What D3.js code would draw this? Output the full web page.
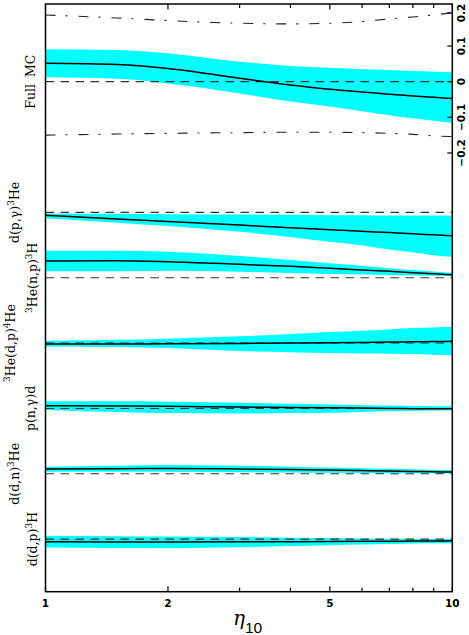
<!DOCTYPE html>
<html><head><meta charset="utf-8">
<script src="https://cdn.jsdelivr.net/npm/d3@7"></script>
<style>body{margin:0;background:#fff}</style>
</head><body><svg id="c" width="469" height="635"></svg>
<script>
// ---- data ----
const eta = [1, 1.5, 2, 3, 4, 5, 6, 7, 8, 9, 10];

// Full Monte Carlo panel
const mcCentral = [0.0515, 0.048, 0.037, 0.0094, -0.0094, -0.0215, -0.029, -0.0355, -0.040, -0.044, -0.047];
const mcUpper   = [0.091, 0.089, 0.080, 0.056, 0.044, 0.039, 0.035, 0.033, 0.030, 0.028, 0.026];
const mcLower   = [0.012, 0.008, -0.005, -0.033, -0.056, -0.070, -0.083, -0.094, -0.103, -0.110, -0.115];
const mcLimitUp = [0.194, 0.185, 0.177, 0.169, 0.167, 0.169, 0.174, 0.182, 0.188, 0.194, 0.201];
const mcLimitLo = [-0.150, -0.147, -0.145, -0.143, -0.142, -0.142, -0.143, -0.145, -0.148, -0.152, -0.154];

// individual reactions (values relative to their own zero line)
const reactions = ["d(p,γ)3He", "3He(n,p)3H", "3He(d,p)4He", "p(n,γ)d", "d(d,n)3He", "d(d,p)3H"];
const reactionOffsets = [-0.3667, -0.55, -0.7333, -0.9167, -1.1, -1.2833];
const reactCentral = [
  [-0.0084, -0.0185, -0.0255, -0.0356, -0.043, -0.0485, -0.053, -0.0567, -0.060, -0.063, -0.0657],
  [0.0468, 0.0477, 0.0449, 0.0376, 0.0320, 0.0264, 0.0220, 0.0179, 0.0140, 0.0109, 0.0084],
  [-0.0028, -0.0025, -0.002, -0.001, 0.0, 0.0008, 0.0018, 0.0028, 0.0035, 0.0042, 0.0048],
  [0.0073, 0.007, 0.006, 0.004, 0.003, 0.002, 0.001, 0.0, -0.0005, -0.001, -0.001],
  [0.0132, 0.0145, 0.0149, 0.0135, 0.012, 0.0104, 0.009, 0.0078, 0.0066, 0.0056, 0.0048],
  [-0.0076, -0.0078, -0.0078, -0.0075, -0.007, -0.0066, -0.0062, -0.0058, -0.0054, -0.0051, -0.0048]
];
const reactUpper = [
  [-0.003, -0.004, -0.005, -0.006, -0.007, -0.008, -0.008, -0.009, -0.009, -0.009, -0.0095],
  [0.0757, 0.0757, 0.0729, 0.0609, 0.0495, 0.0404, 0.0335, 0.0264, 0.0215, 0.0175, 0.014],
  [0.0067, 0.009, 0.0123, 0.0188, 0.0255, 0.0309, 0.0345, 0.0384, 0.042, 0.044, 0.046],
  [0.020, 0.020, 0.019, 0.016, 0.013, 0.011, 0.009, 0.008, 0.007, 0.0065, 0.006],
  [0.0196, 0.0225, 0.0244, 0.0225, 0.020, 0.0177, 0.0158, 0.014, 0.0125, 0.0113, 0.0104],
  [0.0093, 0.0082, 0.0073, 0.0058, 0.0042, 0.003, 0.002, 0.0012, 0.0006, 0.0002, 0.0]
];
const reactLower = [
  [-0.0168, -0.029, -0.0384, -0.0544, -0.069, -0.0825, -0.093, -0.1038, -0.112, -0.120, -0.1248],
  [0.018, 0.0185, 0.0196, 0.0168, 0.013, 0.0104, 0.009, 0.0076, 0.0065, 0.0055, 0.0048],
  [-0.0093, -0.011, -0.014, -0.0224, -0.0255, -0.0281, -0.029, -0.0297, -0.031, -0.0325, -0.0345],
  [-0.004, -0.010, -0.013, -0.014, -0.013, -0.012, -0.010, -0.008, -0.007, -0.006, -0.005],
  [0.0056, 0.0056, 0.0056, 0.0045, 0.0035, 0.0028, 0.0022, 0.0018, 0.0014, 0.0012, 0.001],
  [-0.0236, -0.0248, -0.0253, -0.023, -0.0195, -0.0168, -0.0148, -0.0135, -0.0125, -0.0118, -0.0112]
];

const xMajorTicks = [1, 2, 5, 10];
const xMinorTicks = [3, 4, 6, 7, 8, 9];
const yTicks = [0.2, 0.1, 0, -0.1, -0.2];
const yTickLabels = ["0.2", "0.1", "0", "\u22120.1", "\u22120.2"];

// ---- layout ----
const pLeft = 45.5, pRight = 452.3, pTop = 4, pBottom = 591.7;
const svg = d3.select("#c");

const x = d3.scaleLog().domain([1, 10]).range([pLeft, pRight]);
// slightly compressed above +0.1 as in the original figure
const y = d3.scaleLinear().domain([0.2, 0.1, -1.5]).range([13, 46, 46 + 1.6 * 356.5]);

const cyan = "#00ffff";

function band(up, lo, off) {
  return d3.area().x((d, i) => x(eta[i]))
    .y0((d, i) => y(lo[i] + off)).y1((d, i) => y(up[i] + off))
    .curve(d3.curveMonotoneX)(eta);
}
function curve(vals, off) {
  return d3.line().x((d, i) => x(eta[i])).y((d, i) => y(vals[i] + off))
    .curve(d3.curveMonotoneX)(eta);
}

// bands
svg.append("path").attr("d", band(mcUpper, mcLower, 0)).attr("fill", cyan);
reactions.forEach((r, k) => {
  svg.append("path").attr("d", band(reactUpper[k], reactLower[k], reactionOffsets[k])).attr("fill", cyan);
});

// zero lines (dashed)
[0].concat(reactionOffsets).forEach(off => {
  svg.append("line").attr("x1", pLeft).attr("x2", pRight)
    .attr("y1", y(off)).attr("y2", y(off))
    .attr("stroke", "#333").attr("stroke-width", 1.1)
    .attr("stroke-dasharray", "8.5,6.5");
});

// dash-dot limits
[mcLimitUp, mcLimitLo].forEach(v => {
  svg.append("path").attr("d", curve(v, 0)).attr("fill", "none")
    .attr("stroke", "#222").attr("stroke-width", 1.1)
    .attr("stroke-dasharray", "10,10,2,11");
});

// central lines
svg.append("path").attr("d", curve(mcCentral, 0)).attr("fill", "none")
  .attr("stroke", "#000").attr("stroke-width", 1.5);
reactions.forEach((r, k) => {
  svg.append("path").attr("d", curve(reactCentral[k], reactionOffsets[k])).attr("fill", "none")
    .attr("stroke", "#000").attr("stroke-width", 1.5);
});

// frame
svg.append("rect").attr("x", pLeft).attr("y", pTop).attr("width", pRight - pLeft).attr("height", pBottom - pTop)
  .attr("fill", "none").attr("stroke", "#000").attr("stroke-width", 1.5);

// x ticks (inward, top and bottom)
const tickG = svg.append("g").attr("stroke", "#000").attr("stroke-width", 1.2);
xMajorTicks.concat(xMinorTicks).forEach(t => {
  const len = xMajorTicks.includes(t) ? 5.5 : 4;
  tickG.append("line").attr("x1", x(t)).attr("x2", x(t)).attr("y1", pBottom).attr("y2", pBottom - len);
  tickG.append("line").attr("x1", x(t)).attr("x2", x(t)).attr("y1", pTop).attr("y2", pTop + len);
});
// right y ticks
yTicks.forEach(t => {
  tickG.append("line").attr("x1", pRight).attr("x2", pRight - 5).attr("y1", y(t)).attr("y2", y(t));
});

// x tick labels
xMajorTicks.forEach(t => {
  svg.append("text").attr("x", x(t)).attr("y", 606.7).attr("text-anchor", "middle")
    .attr("font-family", "DejaVu Sans").attr("font-weight", "bold").attr("font-size", 10.5)
    .text(t);
});
// right tick labels (rotated)
yTicks.forEach((t, i) => {
  svg.append("text").attr("transform", `translate(464.5,${y(t)}) rotate(-90)`)
    .attr("text-anchor", "middle")
    .attr("font-family", "DejaVu Sans").attr("font-weight", "bold").attr("font-size", 10.5)
    .text(yTickLabels[i]);
});

// x axis title
const xt = svg.append("text").attr("x", 233).attr("y", 625)
  .attr("font-family", "DejaVu Serif").attr("font-style", "italic").attr("font-size", 20);
xt.append("tspan").text("η");
xt.append("tspan").attr("dy", 8).attr("font-family", "Liberation Sans").attr("font-style", "normal")
  .attr("font-size", 15.5).text("10");

// left labels
const labelParts = {
  "Full MC": [["Full MC", 0]],
  "d(p,γ)3He": [["d(p,γ)", 0], ["3", 1], ["He", 0]],
  "3He(n,p)3H": [["3", 1], ["He(n,p)", 0], ["3", 1], ["H", 0]],
  "3He(d,p)4He": [["3", 1], ["He(d,p)", 0], ["4", 1], ["He", 0]],
  "p(n,γ)d": [["p(n,γ)d", 0]],
  "d(d,n)3He": [["d(d,n)", 0], ["3", 1], ["He", 0]],
  "d(d,p)3H": [["d(d,p)", 0], ["3", 1], ["H", 0]]
};
const labelNames = ["Full MC"].concat(reactions);
const labelOffsets = [0].concat(reactionOffsets);
const labelCols = [35, 19, 37, 15, 35, 19, 37];
labelNames.forEach((name, i) => {
  const t = svg.append("text")
    .attr("transform", `translate(${labelCols[i]},${y(labelOffsets[i])}) rotate(-90)`)
    .attr("text-anchor", "middle")
    .attr("font-family", "DejaVu Serif").attr("font-size", 12.5)
    .attr("word-spacing", 3);
  let sup = false;
  labelParts[name].forEach(([s, isSup]) => {
    const ts = t.append("tspan").text(s);
    if (isSup && !sup) { ts.attr("dy", -5).attr("font-size", 9); sup = true; }
    else if (isSup && sup) { ts.attr("font-size", 9); }
    else if (!isSup && sup) { ts.attr("dy", 5); sup = false; }
  });
});
</script>
</body></html>
